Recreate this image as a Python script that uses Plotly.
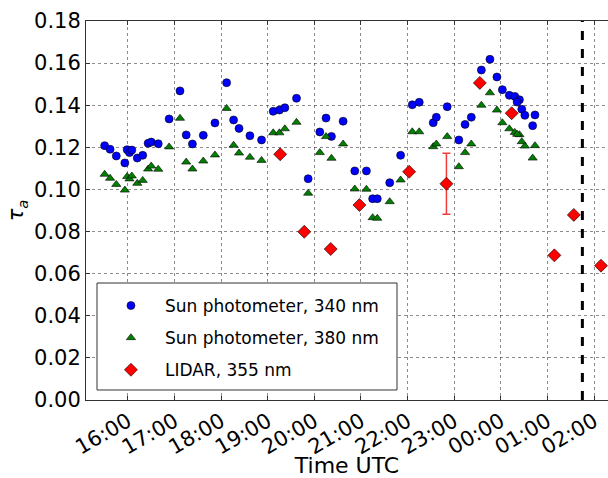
import plotly.graph_objects as go
from datetime import datetime, timedelta

# --- data -------------------------------------------------------------
sp_times = ["15:30", "15:37", "15:45", "15:56", "15:59", "16:02", "16:05", "16:12",
            "16:19", "16:26", "16:30", "16:39", "16:53", "17:07", "17:15", "17:23",
            "17:37", "17:52", "18:07", "18:16", "18:23", "18:37", "18:52", "19:07",
            "19:15", "19:22", "19:37", "19:52", "20:07", "20:15", "20:22", "20:37",
            "20:52", "21:07", "21:15", "21:21", "21:37", "21:51", "22:06", "22:15",
            "22:33", "22:37", "22:51", "23:06", "23:14", "23:22", "23:35", "23:46",
            "23:55", "00:02", "00:11", "00:18", "00:24", "00:21", "00:27", "00:31",
            "00:41", "00:44"]
sp340 = [0.1208, 0.1191, 0.1159, 0.1126, 0.1189, 0.1175, 0.1187, 0.1149,
         0.1162, 0.1219, 0.1225, 0.1217, 0.1335, 0.1468, 0.1259, 0.1216,
         0.1257, 0.1316, 0.1507, 0.1330, 0.1290, 0.1255, 0.1235, 0.1371,
         0.1377, 0.1388, 0.1433, 0.1051, 0.1273, 0.1339, 0.1252, 0.1324,
         0.1088, 0.1088, 0.0956, 0.0956, 0.1032, 0.1162, 0.1402, 0.1414,
         0.1317, 0.1343, 0.1393, 0.1235, 0.1309, 0.1343, 0.1567, 0.1618,
         0.1534, 0.1474, 0.1447, 0.1442, 0.1426, 0.1415, 0.1381, 0.1352,
         0.1303, 0.1354]
sp380 = [0.1072, 0.1053, 0.1024, 0.0997, 0.1061, 0.1050, 0.1064, 0.1029,
         0.1043, 0.1097, 0.1111, 0.1096, 0.1202, 0.1338, 0.1130, 0.1097,
         0.1135, 0.1164, 0.1385, 0.1210, 0.1173, 0.1153, 0.1138, 0.1269,
         0.1269, 0.1288, 0.1319, 0.0982, 0.1175, 0.1251, 0.1148, 0.1216,
         0.1002, 0.1001, 0.0866, 0.0863, 0.0942, 0.1045, 0.1274, 0.1274,
         0.1203, 0.1216, 0.1251, 0.1108, 0.1175, 0.1216, 0.1400, 0.1459,
         0.1377, 0.1317, 0.1288, 0.1271, 0.1260, 0.1262, 0.1227, 0.1206,
         0.1149, 0.1208]

lidar_times = ["19:16", "19:47", "20:21", "20:58", "22:02", "22:50", "23:33",
               "00:14", "01:09", "01:34", "02:09"]
lidar355 = [0.1167, 0.0799, 0.0717, 0.0926, 0.1084, 0.1027, 0.1506,
            0.1362, 0.0687, 0.0879, 0.0638]
lidar_err = [0, 0, 0, 0, 0, 0.0145, 0, 0, 0, 0, 0]

tick_labels = ["16:00", "17:00", "18:00", "19:00", "20:00", "21:00", "22:00",
               "23:00", "00:00", "01:00", "02:00"]
x_start, x_end = "15:06", "02:18"
marker_time = "01:45"
y_ticks = [0.00, 0.02, 0.04, 0.06, 0.08, 0.10, 0.12, 0.14, 0.16, 0.18]

# --- helpers ----------------------------------------------------------
base = datetime(2012, 6, 1)


def to_dt(s):
    h, m = map(int, s.split(":"))
    d = base + timedelta(hours=h, minutes=m)
    if h < 12:
        d += timedelta(days=1)
    return d


font = "DejaVu Sans, Liberation Sans, sans-serif"
grid = "rgba(0,0,0,0.45)"

fig = go.Figure()
fig.add_trace(go.Scatter(
    x=[to_dt(t) for t in sp_times], y=sp340, mode="markers",
    name="Sun photometer, 340 nm", legendgroup="a",
    marker=dict(symbol="circle", size=8, color="#0000ff",
                line=dict(color="black", width=0.6))))
fig.add_trace(go.Scatter(
    x=[to_dt(t) for t in sp_times], y=sp380, mode="markers",
    name="Sun photometer, 380 nm", legendgroup="b",
    marker=dict(symbol="triangle-up", size=8, color="#007f00",
                line=dict(color="black", width=0.6))))
fig.add_trace(go.Scatter(
    x=[to_dt(t) for t in lidar_times], y=lidar355, mode="markers",
    name="LIDAR, 355 nm", legendgroup="c",
    error_y=dict(type="data", array=lidar_err, color="#f03c3c",
                 thickness=1.5, width=4),
    marker=dict(symbol="diamond", size=10, color="#ff0000",
                line=dict(color="black", width=0.6))))

fig.add_shape(type="line", xref="x", yref="paper",
              x0=to_dt(marker_time), x1=to_dt(marker_time), y0=0, y1=1,
              line=dict(color="black", width=3, dash="dash"))
# legend frame
fig.add_shape(type="rect", xref="paper", yref="paper", layer="above",
              x0=0.0211, x1=0.5958, y0=0.0264, y1=0.3087,
              fillcolor="white", line=dict(color="#333", width=1))

fig.update_layout(
    width=608, height=478,
    margin=dict(l=86, r=0, t=21, b=78),
    paper_bgcolor="white", plot_bgcolor="white",
    font=dict(family=font, size=17, color="black"),
    showlegend=True,
    legend=dict(x=0.021, y=0.2955, xanchor="left", yanchor="top",
                bgcolor="rgba(0,0,0,0)", borderwidth=0,
                font=dict(size=17), traceorder="grouped", tracegroupgap=7,
                itemwidth=58),
    xaxis=dict(
        type="date", range=[to_dt(x_start), to_dt(x_end)], automargin=False,
        tickvals=[to_dt(t) for t in tick_labels], ticktext=tick_labels,
        tickangle=-30, ticks="inside", ticklen=4, tickcolor="#333",
        showline=True, linecolor="#333", linewidth=1, mirror="ticks",
        showgrid=True, gridcolor=grid, griddash="dot",
        gridwidth=1, zeroline=False,
        title=dict(text="Time UTC", font=dict(size=22), standoff=0),
        tickfont=dict(size=21)),
    yaxis=dict(
        range=[0, 0.18], tickvals=y_ticks, automargin=False,
        ticktext=[f"{v:.2f}" for v in y_ticks],
        ticks="inside", ticklen=4, tickcolor="#333",
        showline=True, linecolor="#333", linewidth=1,
        showgrid=True, gridcolor=grid, griddash="dot",
        gridwidth=1, zeroline=False,
        title=dict(text="<i>τ<sub>a</sub></i>", font=dict(size=21), standoff=4),
        tickfont=dict(size=21)),
)

fig.write_html("out.html", config={"displayModeBar": False},
               post_script="document.body.style.margin='0';"
                           "document.body.style.padding='0';")
